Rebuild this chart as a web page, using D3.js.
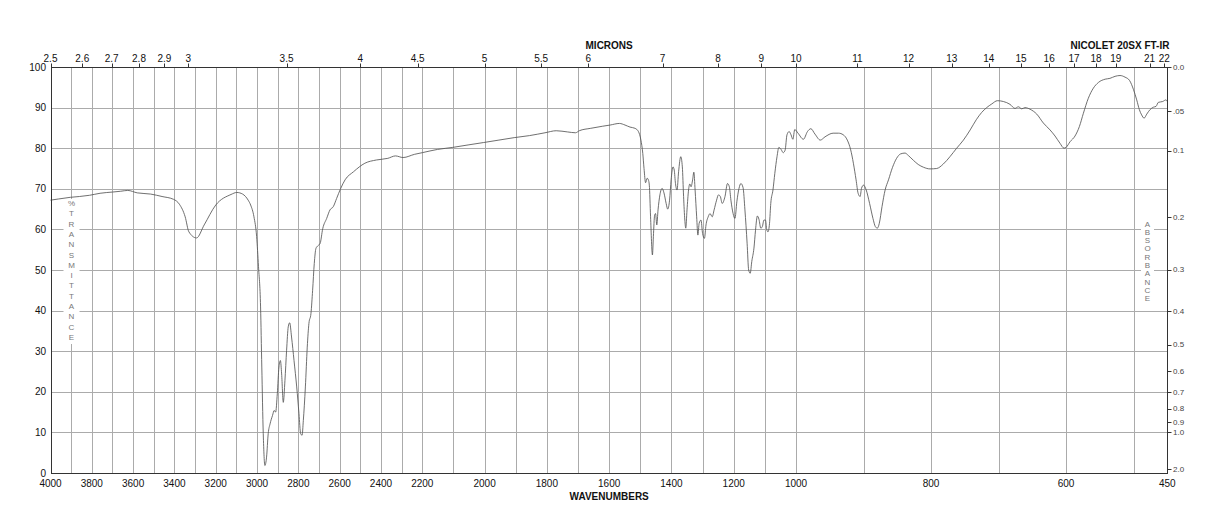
<!DOCTYPE html>
<html><head><meta charset="utf-8">
<script src="https://cdn.jsdelivr.net/npm/d3@7"></script>
<style>
body{margin:0;background:#fff}
svg{display:block}
text{font-family:"Liberation Sans",Arial,Helvetica,sans-serif}
</style>
</head><body>
<svg id="c" width="1218" height="528"></svg>
<script>
// ---- data ----
const wavenumbers = [4000,3960,3904,3860,3811,3760,3700,3660,3626,3580,3515,3460,3404,3376,3348,3330,3293,3256,3200,3126,3098,3070,3043,
3031,3015,3002,2993,2983,2977,2970,2962,2954,2946,2937,2925,2917,2910,2902,2894,2887,2881,2873,2865,2857,2849,2842,2833,2821,2808,2797,2789,2782,2776,2766,2757,2749,2739,2731,2723,2715,2707,2695,2682,2663,2647,2631,2615,2595,2574,
2533,2478,2422,2367,2330,2293,2237,2200,2151,2102,2053,2003,1954,1905,1856,1806,1770,1733,1708,1696,1659,1622,1597,1567,1549,1533,1517,1506,1498,1492,1488,1483,1478,1474,1471,1467,1461,1458,1454,1451,1447,1443,1437,1430,1424,1417,1412,1406,1401,1395,1391,1387,1382,1377,1370,1365,1361,1357,1354,1350,1345,1341,1337,1332,1328,1324,1319,1315,1311,1305,1300,1294,1289,1282,1276,1269,1263,1255,1249,1243,1237,1228,1220,1214,1209,1202,1196,1190,1183,1177,1170,1164,1157,1152,1147,1142,1135,1130,1124,1119,1113,1108,1103,1098,1094,1090,1085,1081,1074,1068,1061,1055,1048,1041,1035,1029,1022,1016,1010,1004,997,989,983,978,972,964,957,945,937,930,924,919,915,911,908,905,903,900,896,891,886,882.5,879.5,876.6,872.6,868,863,857,851,845,838.5,833.6,826,819,811,801.5,791.6,781.8,772,762,752,742,733,725,717.5,710,701.7,692.8,683,675.6,670.6,665.6,660.7,653.3,643.4,633.6,623.7,616.3,608.9,603,600,594,586.7,580.3,574.3,567,559.5,552,542,535,527.4,520,512.6,506,500,495.3,491.4,488,484.4,480.4,475.6,470.6,466.7,463.2,456.8,452,450];
const transmittance = [67.2,67.5,67.9,68.1,68.4,68.9,69.2,69.4,69.6,69.0,68.7,68.1,67.4,66.2,63.1,59.4,57.9,61.1,66.0,68.6,69.1,68.7,67.2,
66.0,63.1,58.2,50.8,40.9,26.1,9.7,1.85,3.9,9.7,12.1,14.2,15.4,15.0,19.5,26.1,27.7,24.4,17.4,22.8,30.2,36.0,37.0,33.5,27.7,21.2,14.6,9.7,9.3,12.9,21.2,31.0,36.8,39.3,45.0,51.6,55.3,55.9,56.5,60.2,62.7,64.8,65.6,67.6,70.1,72.2,
74.2,76.3,77.1,77.5,78.1,77.7,78.5,78.9,79.7,80.2,80.8,81.4,82.0,82.6,83.1,83.8,84.3,84.0,83.8,84.3,84.9,85.4,85.7,86.1,85.7,85.2,84.9,84.1,82.0,78.7,75.0,71.5,72.6,72.2,70.9,63.1,53.7,58.2,63.5,63.9,61.1,64.8,68.5,70.1,69.0,66.4,65.0,67.2,72.2,75.4,74.6,71.3,69.7,74.2,77.9,75.4,68.1,62.3,60.3,64.8,69.7,71.2,70.5,72.2,74.1,69.7,63.1,58.6,61.5,62.3,59.0,57.8,61.1,63.1,63.9,63.1,64.8,67.2,68.5,68.1,66.4,68.1,71.3,70.5,67.2,63.9,62.7,66.8,70.1,71.3,70.3,64.8,56.6,50.0,49.2,52.1,55.4,59.8,63.3,62.5,60.3,60.7,62.3,62.3,60.0,59.4,61.5,66.4,69.7,73.8,77.9,80.2,79.7,78.9,79.5,83.3,84.1,83.3,82.2,84.6,83.7,82.2,84.1,84.8,83.5,82.0,82.8,83.7,83.7,83.3,82.0,79.6,76.3,72.2,68.9,68.1,70.1,70.9,69.7,66.4,62.7,60.7,60.3,61.5,65.6,69.7,72.2,75.3,77.5,78.6,78.8,78.2,77.0,76.0,75.3,74.9,75.0,76.1,77.9,80.0,82.0,84.5,87.0,88.8,90.0,90.9,91.7,91.5,90.8,89.8,90.2,89.7,90.0,89.6,88.4,86.2,84.5,83.0,81.2,80.0,80.2,81.6,83.0,85.3,88.6,92.3,94.8,96.2,97.0,97.2,97.7,97.9,97.5,96.7,94.4,91.9,89.5,88.2,87.4,88.4,89.5,90.1,90.3,91.3,91.5,91.9,91.5];

const wavenumberTicks = [4000,3800,3600,3400,3200,3000,2800,2600,2400,2200,2000,1800,1600,1400,1200,1000,800,600,450];
const gridWavenumbers = d3.range(3900, 450, -100);
const transTicks = d3.range(0, 101, 10);
const transGrid = d3.range(10, 100, 10);
const micronTicks = [2.5,2.6,2.7,2.8,2.9,3,3.5,4,4.5,5,5.5,6,7,8,9,10,11,12,13,14,15,16,17,18,19,21,22];
const absorbanceTicks = [0,0.05,0.1,0.2,0.3,0.4,0.5,0.6,0.7,0.8,0.9,1.0,2.0];
const absorbanceLabels = ["0.0",".05","0.1","0.2","0.3","0.4","0.5","0.6","0.7","0.8","0.9","1.0","2.0"];
const leftTitle = "%TRANSMITTANCE".split("");
const rightTitle = "ABSORBANCE".split("");

// ---- scales ----
const x = d3.scaleLinear().domain([4000, 2200, 1000, 450]).range([50.5, 422.3, 796, 1167.3]);
const y = d3.scaleLinear().domain([0, 100]).range([473, 67]);
const c = v => Math.round(v) + 0.5;
const X0 = c(x(4000)), X1 = c(x(450)), Y0 = c(y(0)), Y1 = c(y(100));

const svg = d3.select("#c");
const gridCol = "#ababab";

// grid
svg.append("g").selectAll("line").data(gridWavenumbers).join("line")
  .attr("x1", d => c(x(d))).attr("x2", d => c(x(d)))
  .attr("y1", Y1).attr("y2", Y0)
  .attr("stroke", gridCol).attr("stroke-width", 1);
svg.append("g").selectAll("line").data(transGrid).join("line")
  .attr("x1", X0).attr("x2", X1)
  .attr("y1", d => c(y(d))).attr("y2", d => c(y(d)))
  .attr("stroke", gridCol).attr("stroke-width", 1);

// title boxes
const lt = svg.append("g");
const ltx = c(x(3900));
lt.append("rect").attr("x", ltx - 8).attr("y", 199).attr("width", 16).attr("height", 145).attr("fill", "#fff");
lt.selectAll("text").data(leftTitle).join("text")
  .attr("x", ltx).attr("y", (d, i) => 206 + i * 10.3)
  .attr("text-anchor", "middle").attr("font-size", 8).attr("fill", "#777").text(d => d);

const rt = svg.append("g");
const rtx = 1147.5;
rt.append("rect").attr("x", rtx - 6.5).attr("y", 217).attr("width", 13).attr("height", 86).attr("fill", "#fff");
rt.selectAll("text").data(rightTitle).join("text")
  .attr("x", rtx).attr("y", (d, i) => 226.5 + i * 8.3)
  .attr("text-anchor", "middle").attr("font-size", 8).attr("fill", "#777").text(d => d);

// spectrum
const line = d3.line().x((d, i) => x(wavenumbers[i])).y((d) => y(d)).curve(d3.curveMonotoneX);
svg.append("path").datum(transmittance).attr("d", line)
  .attr("fill", "none").attr("stroke", "#555").attr("stroke-width", 0.85);

// frame
svg.append("rect").attr("x", X0).attr("y", Y1).attr("width", X1 - X0).attr("height", Y0 - Y1)
  .attr("fill", "none").attr("stroke", "#333").attr("stroke-width", 1);

// bottom labels
svg.append("g").selectAll("text").data(wavenumberTicks).join("text")
  .attr("x", d => x(d)).attr("y", 487)
  .attr("text-anchor", "middle").attr("font-size", 10).attr("fill", "#111").text(d => d);
svg.append("text").attr("x", x(1600)).attr("y", 500).attr("text-anchor", "middle")
  .attr("font-size", 10).attr("font-weight", "bold").attr("fill", "#111").text("WAVENUMBERS");

// left labels
svg.append("g").selectAll("text").data(transTicks).join("text")
  .attr("x", 46).attr("y", d => y(d) + 3.6)
  .attr("text-anchor", "end").attr("font-size", 10).attr("fill", "#111").text(d => d);

// top micron axis
const topAxis = svg.append("g");
topAxis.selectAll("line").data(micronTicks).join("line")
  .attr("x1", d => c(x(10000 / d))).attr("x2", d => c(x(10000 / d)))
  .attr("y1", Y1).attr("y2", Y1 - 4).attr("stroke", "#333");
topAxis.selectAll("text").data(micronTicks).join("text")
  .attr("x", d => x(10000 / d)).attr("y", 61.5)
  .attr("text-anchor", "middle").attr("font-size", 10).attr("fill", "#111").text(d => d);
svg.append("text").attr("x", x(1600)).attr("y", 48.5).attr("text-anchor", "middle")
  .attr("font-size", 10).attr("font-weight", "bold").attr("fill", "#111").text("MICRONS");
svg.append("text").attr("x", 1120).attr("y", 48.5).attr("text-anchor", "middle")
  .attr("font-size", 10).attr("font-weight", "bold").attr("fill", "#111").text("NICOLET 20SX FT-IR");

// right absorbance axis
const ra = svg.append("g");
ra.selectAll("line").data(absorbanceTicks).join("line")
  .attr("x1", X1).attr("x2", X1 + 4)
  .attr("y1", d => c(y(100 * Math.pow(10, -d)))).attr("y2", d => c(y(100 * Math.pow(10, -d))))
  .attr("stroke", "#333");
ra.selectAll("text").data(absorbanceTicks).join("text")
  .attr("x", X1 + 5.5).attr("y", d => y(100 * Math.pow(10, -d)) + 2.8)
  .attr("font-size", 8).attr("fill", "#444").text((d, i) => absorbanceLabels[i]);
</script>
</body></html>
